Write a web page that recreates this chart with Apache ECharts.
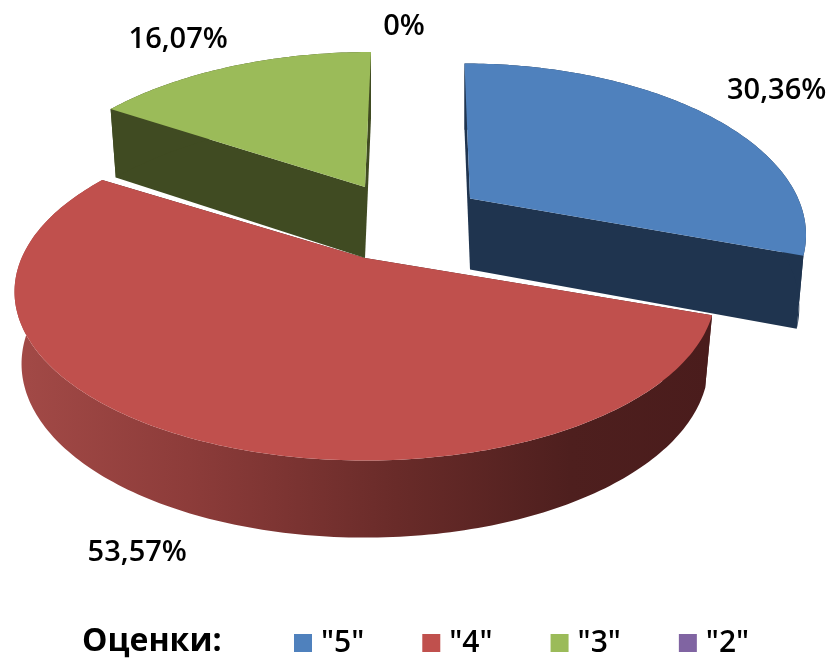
<!DOCTYPE html>
<html>
<head>
<meta charset="utf-8">
<style>html,body{margin:0;padding:0;background:#fff}#c{width:832px;height:660px}</style>
<script src="https://cdn.jsdelivr.net/npm/echarts@6/dist/echarts.min.js"></script>
</head>
<body>
<div id="c"></div>
<script>
const grades = ['"5"', '"4"', '"3"', '"2"'];
const percents = [30.36, 53.57, 16.07, 0];
const legendTitle = 'Оценки:';

const topColors = ['#4f81bd', '#c0504d', '#9bbb59', '#8064a2'];
const sideColors = ['#1f344f', '#4a1c1c', '#404b22', '#4d3c62'];
const apexes = [[470, 198.5], [365, 258], [365, 187], [365, 187]];
const sizeScale = [0.965, 1.01, 0.99, 0.99];
const shears = [-5.5, 0, 6, 6];
const labelOffsets = [[70, -24], [-46, 117], [-53.5, -27], [33, -25]];
const drawOrder = [3, 1, 4, 2];

const RX = 340, RY = 162, PERSP = 0.2, DEPTH = 71, DEPTH_POW = 0.6, SHRINK = 0.98;
const FONT = '600 29px "Open Sans"';

const total = percents.reduce((a, b) => a + b, 0);
const rad = d => d * Math.PI / 180;

function project(idx, deg, r, bottom) {
  const apex = apexes[idx], k = sizeScale[idx];
  const x = r * Math.sin(rad(deg)), y = -r * Math.cos(rad(deg));
  const w = 1 - PERSP * y;
  const s = bottom ? SHRINK : 1;
  return [
    apex[0] + k * RX * x / w * s - y * shears[idx],
    apex[1] + RY * y / w * s + (bottom ? DEPTH / Math.pow(w, DEPTH_POW) : 0)
  ];
}
function arc(idx, a0, a1, bottom) {
  const pts = [], n = Math.max(2, Math.ceil(Math.abs(a1 - a0)));
  for (let i = 0; i <= n; i++) pts.push(project(idx, a0 + (a1 - a0) * i / n, 1, bottom));
  return pts;
}
function poly(points, fill) {
  return { type: 'polygon', shape: { points }, style: { fill, stroke: null } };
}
const redWall = {
  type: 'linear', global: true, x: 14, y: 0, x2: 710, y2: 0,
  colorStops: [
    { offset: 0, color: '#a34a47' }, { offset: 0.25, color: '#8d3c3a' },
    { offset: 0.55, color: '#692b29' }, { offset: 0.8, color: '#4e1f1e' },
    { offset: 1, color: '#4a1c1c' }
  ]
};

function renderSlice(idx) {
  return function (params, api) {
    const value = api.value(0);
    const before = percents.slice(0, idx).reduce((a, b) => a + b, 0);
    const a0 = before / total * 360;
    const a1 = a0 + value / total * 360;
    const apex = apexes[idx];
    const children = [];
    if (value > 0) {
      const side = sideColors[idx];
      const apexB = project(idx, 0, 0, true);
      children.push(poly([apex, project(idx, a0, 1, false), project(idx, a0, 1, true), apexB], side));
      children.push(poly([apex, project(idx, a1, 1, false), project(idx, a1, 1, true), apexB], side));
      children.push(poly(arc(idx, a0, a1, false).concat(arc(idx, a1, a0, true)), idx === 1 ? redWall : side));
      children.push(poly([apex].concat(arc(idx, a0, a1, false)), topColors[idx]));
    }
    const p = project(idx, (a0 + a1) / 2, 1, false);
    const off = labelOffsets[idx];
    children.push({
      type: 'text',
      style: {
        text: String(value).replace('.', ',') + '%',
        x: p[0] + off[0], y: p[1] + off[1],
        align: 'center', verticalAlign: 'middle',
        font: FONT, fill: '#000'
      }
    });
    return { type: 'group', children };
  };
}

const chart = echarts.init(document.getElementById('c'), null, { renderer: 'canvas' });
chart.setOption({
  animation: false,
  backgroundColor: '#fff',
  title: {
    text: legendTitle, left: 77, top: 621,
    textStyle: { fontFamily: 'Open Sans', fontWeight: 700, fontSize: 32, color: '#000' }
  },
  legend: {
    data: grades, left: 289, top: 623, icon: 'rect',
    itemWidth: 18, itemHeight: 18, itemGap: 58, selectedMode: false,
    textStyle: { fontFamily: 'Open Sans', fontWeight: 600, fontSize: 30, color: '#000', padding: [4, 0, 0, 4] }
  },
  series: grades.map((g, i) => ({
    type: 'custom', name: g, coordinateSystem: 'none', z: drawOrder[i],
    itemStyle: { color: topColors[i] }, silent: true,
    data: [[percents[i]]],
    renderItem: renderSlice(i)
  }))
});
</script>
</body>
</html>
